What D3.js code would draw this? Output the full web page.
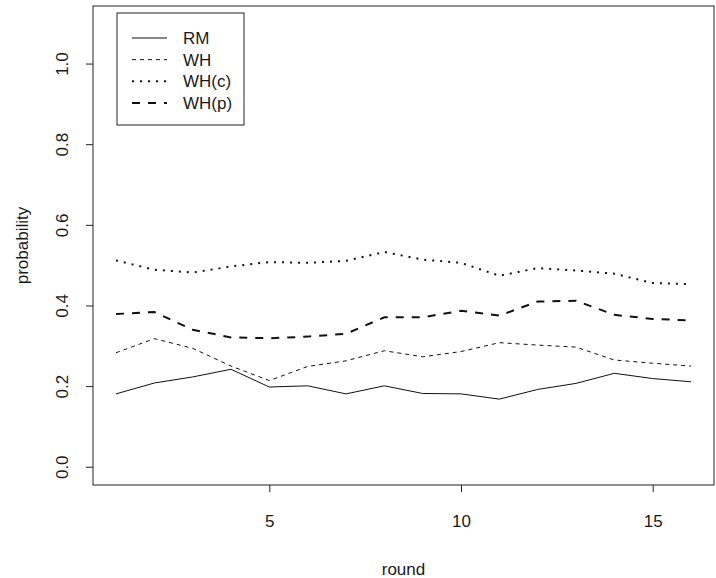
<!DOCTYPE html>
<html>
<head>
<meta charset="utf-8" />
<script src="https://cdn.jsdelivr.net/npm/d3@7"></script>
<title>probability by round</title>
<style>
  body { margin: 0; background: #fff; }
  text { font-family: "Liberation Sans", Arial, sans-serif; fill: #1a1a1a; }
</style>
</head>
<body>
<script>
// values, rounds 1..16
var rounds = d3.range(1, 17)
var rm   = [0.182, 0.209, 0.224, 0.243, 0.199, 0.202, 0.182, 0.202, 0.183, 0.182, 0.169, 0.193, 0.208, 0.233, 0.220, 0.212]
var wh   = [0.284, 0.319, 0.295, 0.251, 0.215, 0.250, 0.264, 0.289, 0.274, 0.287, 0.309, 0.303, 0.298, 0.266, 0.258, 0.251]
var whC  = [0.513, 0.490, 0.483, 0.498, 0.509, 0.507, 0.512, 0.534, 0.515, 0.507, 0.475, 0.494, 0.488, 0.480, 0.457, 0.454]
var whP  = [0.380, 0.385, 0.341, 0.322, 0.320, 0.324, 0.331, 0.372, 0.372, 0.388, 0.376, 0.411, 0.413, 0.378, 0.368, 0.364]
var seriesNames = ["RM", "WH", "WH(c)", "WH(p)"]
var xTicks = [5, 10, 15]
var yTicks = [0, 0.2, 0.4, 0.6, 0.8, 1.0]

var w = 716, h = 578
var box = {left: 93, right: 714, top: 6, bottom: 485}
var fs = "17px"

var series = [
  {name: seriesNames[0], vals: rm,  width: 1, dash: null},
  {name: seriesNames[1], vals: wh,  width: 1, dash: "4,4"},
  {name: seriesNames[2], vals: whC, width: 2, dash: "2,6"},
  {name: seriesNames[3], vals: whP, width: 2, dash: "8,8"}
]

var svg = d3.select("body").append("svg")
  .attr("width", w)
  .attr("height", h)

// R style: data range padded by 4% each side
var x = d3.scaleLinear().domain([1 - 0.6, 16 + 0.6]).range([box.left, box.right])
var y = d3.scaleLinear().domain([-0.044, 1.144]).range([box.bottom, box.top])

svg.append("rect")
  .attr("x", box.left).attr("y", box.top)
  .attr("width", box.right - box.left)
  .attr("height", box.bottom - box.top)
  .attr("fill", "none")
  .attr("stroke", "#222")
  .attr("stroke-width", 1)

var line = d3.line()
  .x(function(d, i) { return x(rounds[i]) })
  .y(function(d) { return y(d) })

svg.selectAll("path.series")
  .data(series)
  .enter().append("path")
  .attr("class", "series")
  .attr("d", function(s) { return line(s.vals) })
  .attr("fill", "none")
  .attr("stroke", "#111")
  .attr("stroke-width", function(s) { return s.width })
  .attr("stroke-dasharray", function(s) { return s.dash })

// axes
var xAxis = d3.axisBottom(x).tickValues(xTicks).tickSize(7).tickPadding(23)
var gx = svg.append("g")
  .attr("transform", "translate(0," + box.bottom + ")")
  .call(xAxis)
gx.select(".domain").remove()
gx.selectAll("line").attr("stroke", "#222")
gx.selectAll("text").style("font-size", fs).attr("fill", "#1a1a1a")

var gy = svg.append("g")
  .attr("transform", "translate(" + box.left + ",0)")
gy.selectAll("line").data(yTicks).enter().append("line")
  .attr("x1", -7).attr("x2", 0)
  .attr("y1", function(d) { return y(d) })
  .attr("y2", function(d) { return y(d) })
  .attr("stroke", "#222")
gy.selectAll("text").data(yTicks).enter().append("text")
  .attr("transform", function(d) { return "translate(-25," + y(d) + ") rotate(-90)" })
  .attr("text-anchor", "middle")
  .style("font-size", fs)
  .text(function(d) { return d3.format(".1f")(d) })

svg.append("text")
  .attr("x", (box.left + box.right) / 2)
  .attr("y", 575)
  .attr("text-anchor", "middle")
  .style("font-size", fs)
  .text("round")

svg.append("text")
  .attr("transform", "translate(28," + (box.top + box.bottom) / 2 + ") rotate(-90)")
  .attr("text-anchor", "middle")
  .style("font-size", fs)
  .text("probability")

// legend
var leg = svg.append("g")
leg.append("rect")
  .attr("x", 117).attr("y", 13)
  .attr("width", 127).attr("height", 112)
  .attr("fill", "#fff")
  .attr("stroke", "#222")

var rowY = d3.scaleLinear().domain([0, 3]).range([38, 103])
var items = leg.selectAll("g.item").data(series).enter().append("g")
  .attr("transform", function(s, i) { return "translate(0," + rowY(i) + ")" })
items.append("line")
  .attr("x1", 132).attr("x2", 167)
  .attr("stroke", "#111")
  .attr("stroke-width", function(s) { return s.width })
  .attr("stroke-dasharray", function(s) { return s.dash })
items.append("text")
  .attr("x", 183)
  .attr("dy", "0.36em")
  .style("font-size", fs)
  .text(function(s) { return s.name })
</script>
</body>
</html>
